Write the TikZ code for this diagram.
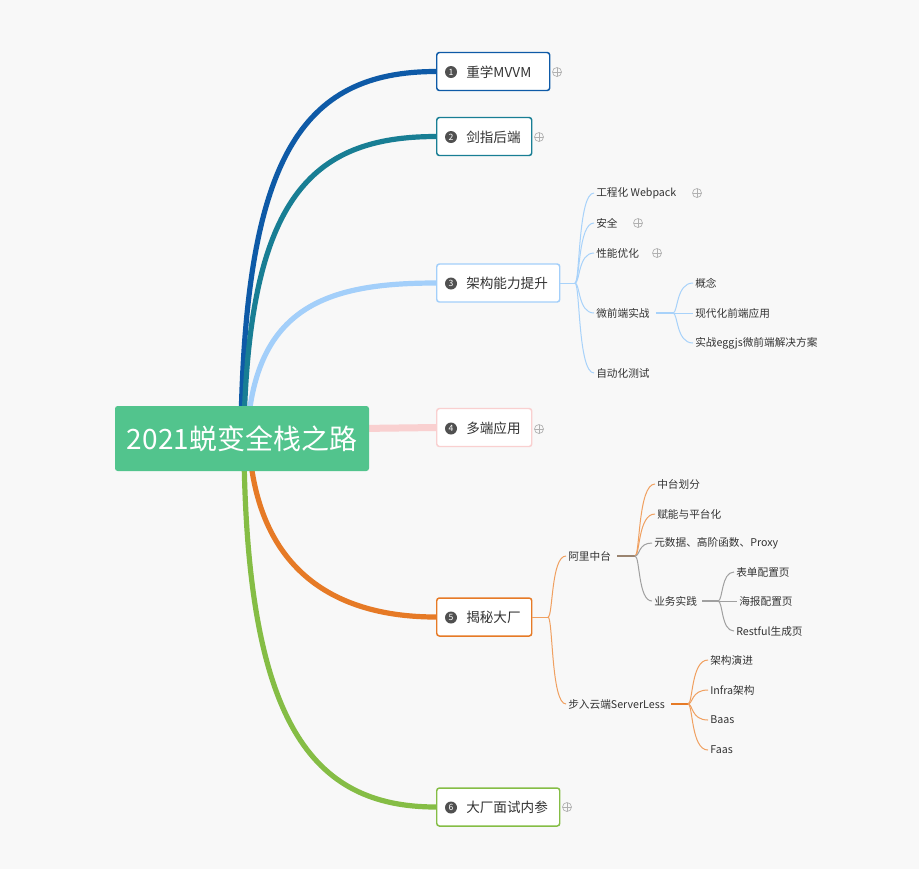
\documentclass[tikz,border=0pt]{standalone}
\usepackage{fontspec}
\setmainfont{Noto Sans CJK SC}
\usetikzlibrary{calc}
\definecolor{bg}{HTML}{F8F8F8}
\definecolor{cgreen}{HTML}{52C48D}
\definecolor{cblue}{HTML}{0E5AA7}
\definecolor{cteal}{HTML}{187E94}
\definecolor{clblue}{HTML}{A3CFFA}
\definecolor{cpink}{HTML}{F9D0D0}
\definecolor{corange}{HTML}{E67A26}
\definecolor{cgreen2}{HTML}{85BD45}
\definecolor{txt}{HTML}{333333}
\definecolor{numgrey}{HTML}{505050}
\definecolor{plusgrey}{HTML}{B0B0B0}
\definecolor{thinblue}{HTML}{A8D2FA}
\definecolor{thinorange}{HTML}{F0A060}
\definecolor{thingrey}{HTML}{A0A0A0}
\definecolor{brown}{HTML}{9A8470}
\pgfdeclarelayer{bgfill}
\pgfdeclarelayer{background}
\pgfsetlayers{bgfill,background,main}
\newcommand\brc[3]{\draw[#1] (#2) .. controls ($(#2)+(5,0)$) and ($(#2|-#3)+(3,0)$) .. (#3);}
\begin{document}
\begin{tikzpicture}[x=0.75pt,y=-0.75pt,
  topicbox/.style={draw, line width=1.1pt, rounded corners=2pt, fill=white, minimum height=38*0.75pt, anchor=west, inner sep=0},
  num/.style={circle, fill=numgrey, text=white, font=\fontsize{6.5}{6.5}\selectfont, inner sep=0, minimum size=12*0.75pt},
  ttext/.style={anchor=west, inner sep=0, font=\fontsize{10.2}{12}\selectfont, text=txt},
  sub/.style={anchor=west, inner xsep=1.5pt, inner ysep=0pt, font=\fontsize{8}{9.5}\selectfont, text=txt},
  pl/.style={circle, draw=plusgrey, line width=0.5pt, minimum size=9*0.75pt, inner sep=0,
    path picture={\draw[plusgrey, line width=0.5pt] (path picture bounding box.north) -- (path picture bounding box.south) (path picture bounding box.west) -- (path picture bounding box.east);}},
  thick1/.style={line width=3.9pt},
  lb/.style={thinblue, line width=0.75pt},
  lo/.style={thinorange, line width=0.75pt},
  lg/.style={thingrey, line width=0.75pt}
]
\begin{pgfonlayer}{bgfill}
\fill[bg] (0,0) rectangle (919,869);
\end{pgfonlayer}
\useasboundingbox (0,0) rectangle (919,869);

% central node
\node[fill=cgreen, rounded corners=2pt, minimum width=254*0.75pt, minimum height=65*0.75pt, inner sep=0,
  text=white, font=\fontsize{21}{24}\selectfont] (c) at (242,438.5) {2021蜕变全栈之路};

% topic boxes
\node[topicbox, draw=cblue, minimum width=113*0.75pt] (t1) at (436,71.5) {};
\node[topicbox, draw=cteal, minimum width=95*0.75pt] (t2) at (436,136.5) {};
\node[topicbox, draw=clblue, minimum width=123*0.75pt] (t3) at (436,283) {};
\node[topicbox, draw=cpink, minimum width=95*0.75pt] (t4) at (436,427.5) {};
\node[topicbox, draw=corange, minimum width=95*0.75pt] (t5) at (436,617) {};
\node[topicbox, draw=cgreen2, minimum width=123*0.75pt] (t6) at (436,807) {};

\node[num] (n1) at (451,72) {1};
\node[num] (n2) at (451,137) {2};
\node[num] (n3) at (451,283.5) {3};
\node[num] (n4) at (451,428.5) {4};
\node[num] (n5) at (451,617.5) {5};
\node[num] (n6) at (451,807.5) {6};

\node[ttext] (x1) at (466,72) {重学MVVM};
\node[ttext] (x2) at (466,137) {剑指后端};
\node[ttext] (x3) at (466,283.5) {架构能力提升};
\node[ttext] (x4) at (466,428.5) {多端应用};
\node[ttext] (x5) at (466,617.5) {揭秘大厂};
\node[ttext] (x6) at (466,807.5) {大厂面试内参};

\node[pl] (p1) at (557,72) {};
\node[pl] (p2) at (539,137) {};
\node[pl] (p4) at (539,429) {};
\node[pl] (p6) at (567,807) {};

% main connectors
\begin{pgfonlayer}{background}
\draw[thick1, cblue] (241,425) .. controls (246,160) and (300,71.5) .. (t1.west);
\draw[thick1, cteal] (244,425) .. controls (250,200) and (310,136.5) .. (t2.west);
\draw[thick1, clblue] (248,425) .. controls (258,305) and (330,283) .. (t3.west);
\draw[line width=5.25pt, cpink] ($(c.east)+(-10,-10)$) -- (t4.west);
\draw[thick1, corange] (250,455) .. controls (262,575) and (340,617) .. (t5.west);
\draw[thick1, cgreen2] (244,455) .. controls (248,720) and (310,807) .. (t6.west);
\end{pgfonlayer}

% branch 3 children
\coordinate (f3) at (575,283);
\node[sub] (s1) at (594,193) {工程化 Webpack};
\node[sub] (s2) at (594,223) {安全};
\node[sub] (s3) at (594,253) {性能优化};
\node[sub] (s4) at (594,313) {微前端实战};
\node[sub] (s5) at (594,373) {自动化测试};
\node[pl] (ps1) at (697,193) {};
\node[pl] (ps2) at (638,223) {};
\node[pl] (ps3) at (657,253) {};
\draw[lb] (t3.east) -- (f3);
\brc{lb}{f3}{s1.west}
\brc{lb}{f3}{s2.west}
\brc{lb}{f3}{s3.west}
\brc{lb}{f3}{s4.west}
\brc{lb}{f3}{s5.west}

\coordinate (f34) at (673,313);
\node[sub] (m1) at (693,283) {概念};
\node[sub] (m2) at (693,313) {现代化前端应用};
\node[sub] (m3) at (693,343) {实战eggjs微前端解决方案};
\draw[lb, line width=1.5pt] ($(s4.east)+(4,0)$) -- (f34);
\brc{lb}{f34}{m1.west}
\brc{lb}{f34}{m2.west}
\brc{lb}{f34}{m3.west}

% branch 5 children
\coordinate (f5) at (548,617);
\node[sub] (a1) at (566,556) {阿里中台};
\node[sub] (a2) at (566,704) {步入云端ServerLess};
\draw[lo] (t5.east) -- (f5);
\brc{lo}{f5}{a1.west}
\brc{lo}{f5}{a2.west}

\coordinate (fa1) at (635,556);
\node[sub] (b1) at (655,484) {中台划分};
\node[sub] (b2) at (655,514) {赋能与平台化};
\node[sub] (b3) at (652,543) {元数据、高阶函数、Proxy};
\node[sub] (b4) at (652,601) {业务实践};
\draw[brown, line width=1.5pt] ($(a1.east)+(4,0)$) -- (fa1);
\brc{lo}{fa1}{b1.west}
\brc{lo}{fa1}{b2.west}
\brc{lg}{fa1}{b3.west}
\brc{lg}{fa1}{b4.west}

\coordinate (fb4) at (718,601);
\node[sub] (d1) at (734,572) {表单配置页};
\node[sub] (d2) at (737,601) {海报配置页};
\node[sub] (d3) at (734,631) {Restful生成页};
\draw[thingrey, line width=1.5pt] ($(b4.east)+(3,0)$) -- (fb4);
\brc{lg}{fb4}{d1.west}
\brc{lg}{fb4}{d2.west}
\brc{lg}{fb4}{d3.west}

\coordinate (fa2) at (688,704);
\node[sub] (e1) at (708,660) {架构演进};
\node[sub] (e2) at (708,690) {Infra架构};
\node[sub] (e3) at (708,720) {Baas};
\node[sub] (e4) at (708,750) {Faas};
\draw[corange, line width=1.5pt] ($(a2.east)+(4,0)$) -- (fa2);
\brc{lo}{fa2}{e1.west}
\brc{lo}{fa2}{e2.west}
\brc{lo}{fa2}{e3.west}
\brc{lo}{fa2}{e4.west}
\end{tikzpicture}
\end{document}
